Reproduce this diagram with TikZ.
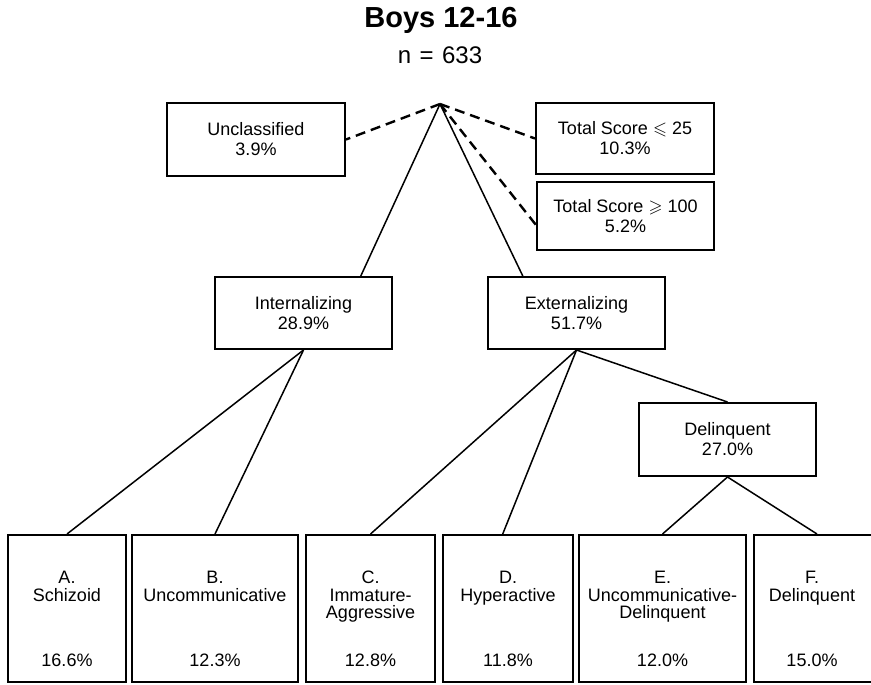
\documentclass[tikz,border=0pt]{standalone}
\usepackage{amssymb}
\usepackage{fontspec}
\setmainfont{Liberation Sans}
\usetikzlibrary{calc}
\begin{document}
\begin{tikzpicture}[x=0.5pt,y=-0.5pt,
  box/.style={draw, line width=1pt, inner sep=0pt, align=center,
    font=\fontsize{9}{10}\selectfont},
  leaf/.style={draw, line width=1pt, inner sep=0pt, minimum height=73.5pt},
  txt/.style={inner sep=0pt, align=center, font=\fontsize{9}{8.7}\selectfont},
  link/.style={line width=0.75pt},
  dashlink/.style={line width=1.2pt, dash pattern=on 5pt off 3pt}]
\useasboundingbox (0,0) rectangle (871,684);

% heading
\node[font=\bfseries\fontsize{14.5}{16}\selectfont] (title) at (441,20) {Boys 12-16};
\node[font=\fontsize{12}{14}\selectfont] (count) at (440,55) {n\hspace{0.35em}=\hspace{0.35em}633};

% upper level
\coordinate (apex) at (440,104);
\node[box, minimum width=89pt, minimum height=36.5pt] (uncl) at (256,139.5) {Unclassified\\3.9\%};
\node[box, minimum width=89pt, minimum height=35.5pt] (low) at (625,138.5) {Total Score $\leqslant$ 25\\10.3\%};
\node[box, minimum width=88.5pt, minimum height=34pt] (high) at (625.5,216) {Total Score $\geqslant$ 100\\5.2\%};
\node[box, minimum width=88.5pt, minimum height=36pt] (intl) at (303.5,313) {Internalizing\\28.9\%};
\node[box, minimum width=88.5pt, minimum height=36pt] (extl) at (576.5,313) {Externalizing\\51.7\%};
\node[box, minimum width=88.5pt, minimum height=36.5pt] (delq) at (727.5,439.5) {Delinquent\\27.0\%};

% profile boxes
\node[leaf, minimum width=59pt] (A) at (67,608.5) {};
\node[leaf, minimum width=83pt] (B) at (215,608.5) {};
\node[leaf, minimum width=64.5pt] (C) at (370.5,608.5) {};
\node[leaf, minimum width=65pt] (D) at (508,608.5) {};
\node[leaf, minimum width=83.5pt] (E) at (662.5,608.5) {};
\node[leaf, minimum width=60pt] (F) at (814,608.5) {};

\node[txt, anchor=north] (At) at (A.center |- 0,571) {A.\\Schizoid};
\node[txt, anchor=north] (Bt) at (B.center |- 0,571) {B.\\Uncommunicative};
\node[txt, anchor=north] (Ct) at (C.center |- 0,571) {C.\\Immature-\\Aggressive};
\node[txt, anchor=north] (Dt) at (D.center |- 0,571) {D.\\Hyperactive};
\node[txt, anchor=north] (Et) at (E.center |- 0,571) {E.\\Uncommunicative-\\Delinquent};
\node[txt, anchor=north] (Ft) at ([xshift=-1pt]F.center |- 0,571) {F.\\Delinquent};

\node[txt] (Ap) at (A.center |- 0,660) {16.6\%};
\node[txt] (Bp) at (B.center |- 0,660) {12.3\%};
\node[txt] (Cp) at (C.center |- 0,660) {12.8\%};
\node[txt] (Dp) at (D.center |- 0,660) {11.8\%};
\node[txt] (Ep) at (E.center |- 0,660) {12.0\%};
\node[txt] (Fp) at ([xshift=-1pt]F.center |- 0,660) {15.0\%};

% connectors
\draw[dashlink] (apex) -- (uncl.east);
\draw[dashlink] (apex) -- (low.west);
\draw[dashlink] (apex) -- ([yshift=-4.5pt]high.west);
\draw[link] (apex) -- ($(intl.north west)!0.82!(intl.north east)$);
\draw[link] (apex) -- ($(extl.north west)!0.2!(extl.north east)$);
\draw[link] (intl.south) -- (A.north);
\draw[link] (intl.south) -- (B.north);
\draw[link] (extl.south) -- (C.north);
\draw[link] (extl.south) -- ($(D.north west)!0.46!(D.north east)$);
\draw[link] (extl.south) -- (delq.north);
\draw[link] (delq.south) -- (E.north);
\draw[link] (delq.south) -- ([xshift=1.5pt]F.north);
\end{tikzpicture}
\end{document}
